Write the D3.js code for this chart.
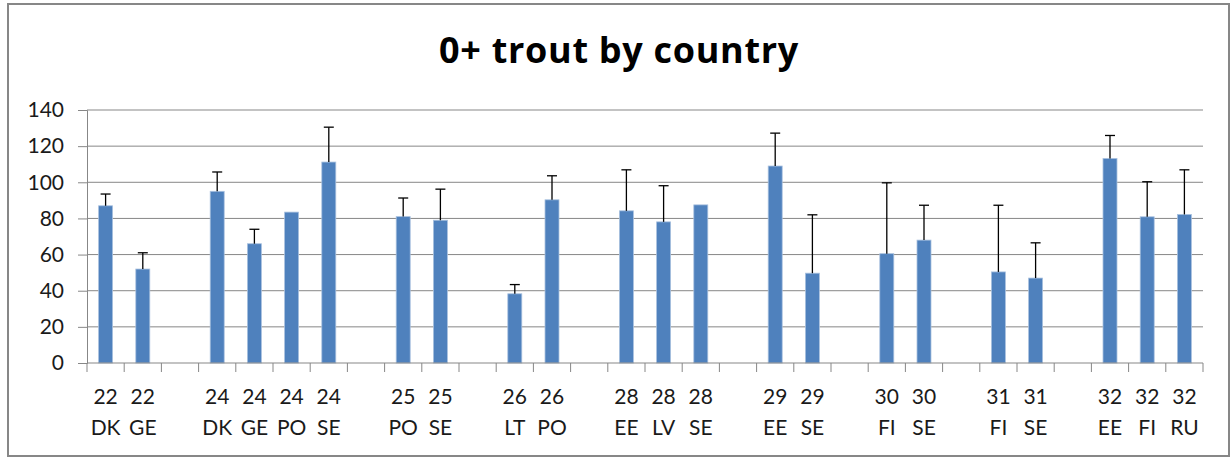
<!DOCTYPE html>
<html>
<head>
<meta charset="utf-8">
<script src="https://cdn.jsdelivr.net/npm/d3@7"></script>
<style>
  body { margin: 0; background: #fff; }
</style>
</head>
<body>
<svg id="chart" width="1232" height="459" font-family="Lato, sans-serif"></svg>
<script>
// Survey areas / countries; empty strings are spacer slots between areas
const categories = ["22 DK","22 GE","","24 DK","24 GE","24 PO","24 SE","","25 PO","25 SE","",
  "26 LT","26 PO","","28 EE","28 LV","28 SE","","29 EE","29 SE","","30 FI","30 SE","",
  "31 FI","31 SE","","32 EE","32 FI","32 RU"];
// Mean density of 0+ trout
const means = [87,52,null,95,66,83.5,111.2,null,81,79,null,38.3,90.3,null,84.2,78.1,87.5,null,
  109,49.7,null,60.5,68,null,50.4,47,null,113.2,80.9,82.2];
// Upper error (plus direction only)
const errPlus = [6.5,9,null,10.7,8,0,19.3,null,10.3,17.2,null,5.1,13.3,null,22.7,20,0,null,
  18.2,32.3,null,39.2,19.3,null,36.9,19.5,null,12.7,19.4,24.7];
const yTicks = [0,20,40,60,80,100,120,140];
const chartTitle = "0+ trout by country";

const svg = d3.select("#chart");
const plot = { left: 87, right: 1203, top: 110, bottom: 363 };

// chart frame
svg.append("rect")
  .attr("x", 8).attr("y", 4).attr("width", 1221).attr("height", 452)
  .attr("fill", "#fff").attr("stroke", "#878787").attr("stroke-width", 2);

svg.append("text")
  .attr("x", 619).attr("y", 63)
  .attr("text-anchor", "middle")
  .attr("font-family", "'Open Sans', sans-serif")
  .attr("font-size", 36).attr("font-weight", 700).attr("fill", "#000")
  .attr("letter-spacing", 0.7)
  .text(chartTitle);

const idx = d3.range(categories.length);
const x = d3.scaleBand().domain(idx).range([plot.left, plot.right])
  .paddingInner(0.624).paddingOuter(0.312);
const y = d3.scaleLinear().domain([0, 140]).range([plot.bottom, plot.top]);
const step = x.step();

// horizontal gridlines
svg.append("g").selectAll("line").data(yTicks.filter(t => t > 0)).join("line")
  .attr("x1", plot.left).attr("x2", plot.right)
  .attr("y1", d => y(d)).attr("y2", d => y(d))
  .attr("stroke", "#878787").attr("stroke-width", 1);

// y axis
const yAxis = svg.append("g")
  .attr("transform", `translate(${plot.left},0)`)
  .call(d3.axisLeft(y).tickValues(yTicks).tickSize(9).tickPadding(14));
yAxis.attr("font-family", "Lato, sans-serif").attr("font-size", 21);
yAxis.select(".domain").attr("stroke", "#878787");
yAxis.selectAll(".tick line").attr("stroke", "#878787");
yAxis.selectAll(".tick text").attr("fill", "#1a1a1a");

// bars
svg.append("g").selectAll("rect")
  .data(idx.filter(i => means[i] != null)).join("rect")
  .attr("x", i => x(i))
  .attr("width", x.bandwidth())
  .attr("y", i => y(means[i]))
  .attr("height", i => y(0) - y(means[i]))
  .attr("fill", "#4F81BD")
  .attr("stroke", "#A9C1DF").attr("stroke-width", 0.8);

// error bars
const eb = svg.append("g").selectAll("g")
  .data(idx.filter(i => means[i] != null && errPlus[i] > 0)).join("g");
eb.append("line")
  .attr("x1", i => x(i) + x.bandwidth() / 2).attr("x2", i => x(i) + x.bandwidth() / 2)
  .attr("y1", i => y(means[i])).attr("y2", i => y(means[i] + errPlus[i]))
  .attr("stroke", "#000").attr("stroke-width", 1.3);
eb.append("line")
  .attr("x1", i => x(i) + x.bandwidth() / 2 - 5).attr("x2", i => x(i) + x.bandwidth() / 2 + 5)
  .attr("y1", i => y(means[i] + errPlus[i])).attr("y2", i => y(means[i] + errPlus[i]))
  .attr("stroke", "#000").attr("stroke-width", 1.3);

// x axis baseline and slot boundary ticks
svg.append("line")
  .attr("x1", plot.left).attr("x2", plot.right)
  .attr("y1", plot.bottom).attr("y2", plot.bottom)
  .attr("stroke", "#878787");
const bounds = d3.range(categories.length + 1).map(k => plot.left + k * step);
svg.append("g").selectAll("line").data(bounds).join("line")
  .attr("x1", d => d).attr("x2", d => d)
  .attr("y1", plot.bottom).attr("y2", plot.bottom + 9)
  .attr("stroke", "#878787");

// two-line category labels
const lab = svg.append("g").selectAll("text")
  .data(idx.filter(i => categories[i] !== "")).join("text")
  .attr("text-anchor", "middle")
  .attr("font-size", 21).attr("fill", "#1a1a1a");
lab.append("tspan")
  .attr("x", i => x(i) + x.bandwidth() / 2).attr("y", 404)
  .text(i => categories[i].split(" ")[0]);
lab.append("tspan")
  .attr("x", i => x(i) + x.bandwidth() / 2).attr("y", 435)
  .text(i => categories[i].split(" ")[1]);
</script>
</body>
</html>
